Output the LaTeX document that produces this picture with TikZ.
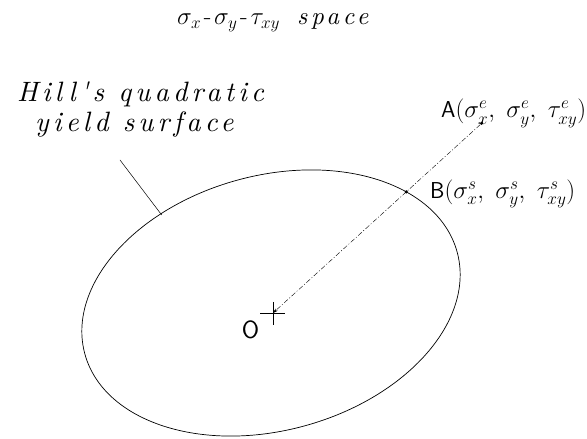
\documentclass[tikz,border=0pt]{standalone}
\usepackage{fontspec}
\usetikzlibrary{arrows.meta,intersections}
\newfontfamily\spacedfont[LetterSpace=15, Extension=.otf, UprightFont=lmroman10-regular, ItalicFont=lmroman10-italic]{lmroman10}
\begin{document}
\begin{tikzpicture}[x=1pt,y=1pt,
  lbl/.style={inner sep=0pt, font=\sffamily\fontsize{23}{27}\selectfont},
  spaced/.style={inner sep=0pt, font=\spacedfont\itshape\fontsize{28}{32}\selectfont},
  mathlbl/.style={inner sep=0pt, font=\fontsize{25}{30}\selectfont},
  surfline/.style={line width=0.7pt},
  ray/.style={line width=0.4pt, dash pattern=on 5pt off 2pt on 1pt off 2pt},
  dotmark/.style={circle, fill, inner sep=0pt, minimum size=3.5pt}]
\useasboundingbox (0,0) rectangle (587,439);
\coordinate (O) at (273,126);
\coordinate (A) at (481.7,315.7);
\path[name path=surf, draw, surfline, rotate around={15.35:(271,136)}] (271,136) ellipse [x radius=193pt, y radius=127.4pt];
\path[name path=rayp] (O) -- (A);
\path[name intersections={of=surf and rayp, by=B}];
\node[dotmark] (Adot) at (A) {};
\node[dotmark] (Bdot) at (B) {};
\draw[ray, -{Stealth[length=5pt,width=3pt]}] (Adot) -- (O);
\coordinate (Cl) at (260,126);
\coordinate (Cr) at (285,126);
\coordinate (Ct) at (273,137);
\coordinate (Cb) at (273,114);
\draw[line width=0.5pt] (Cl) -- (Cr);
\draw[line width=0.5pt] (Ct) -- (Cb);
\coordinate (P1) at (120,279);
\coordinate (P2) at (161.7,224);
\draw[line width=0.5pt] (P1) -- (P2);
\node[mathlbl, anchor=base west] (title) at (177,414) {$\sigma_x\mkern2mu$-$\mkern2mu\sigma_y\mkern2mu$-$\mkern2mu\tau_{xy}$};
\node[spaced, anchor=base west, font=\spacedfont\itshape\fontsize{25}{30}\selectfont] (titlesp) at (297,414) {space};
\node[spaced, anchor=base west] (hill1) at (17,337.3) {Hill's quadratic};
\node[spaced, anchor=base west] (hill2) at (35,307.3) {yield surface};
\node[lbl, anchor=base west] (Alab) at (441,321) {A$(\sigma_x^e,\ \sigma_y^e,\ \tau_{xy}^e)$};
\node[lbl, anchor=base west] (Blab) at (430,240.7) {B$(\sigma_x^s,\ \sigma_y^s,\ \tau_{xy}^s)$};
\node[lbl, anchor=center, font=\sffamily\fontsize{25}{30}\selectfont] (Olab) at (250.5,109) {O};
\end{tikzpicture}
\end{document}
